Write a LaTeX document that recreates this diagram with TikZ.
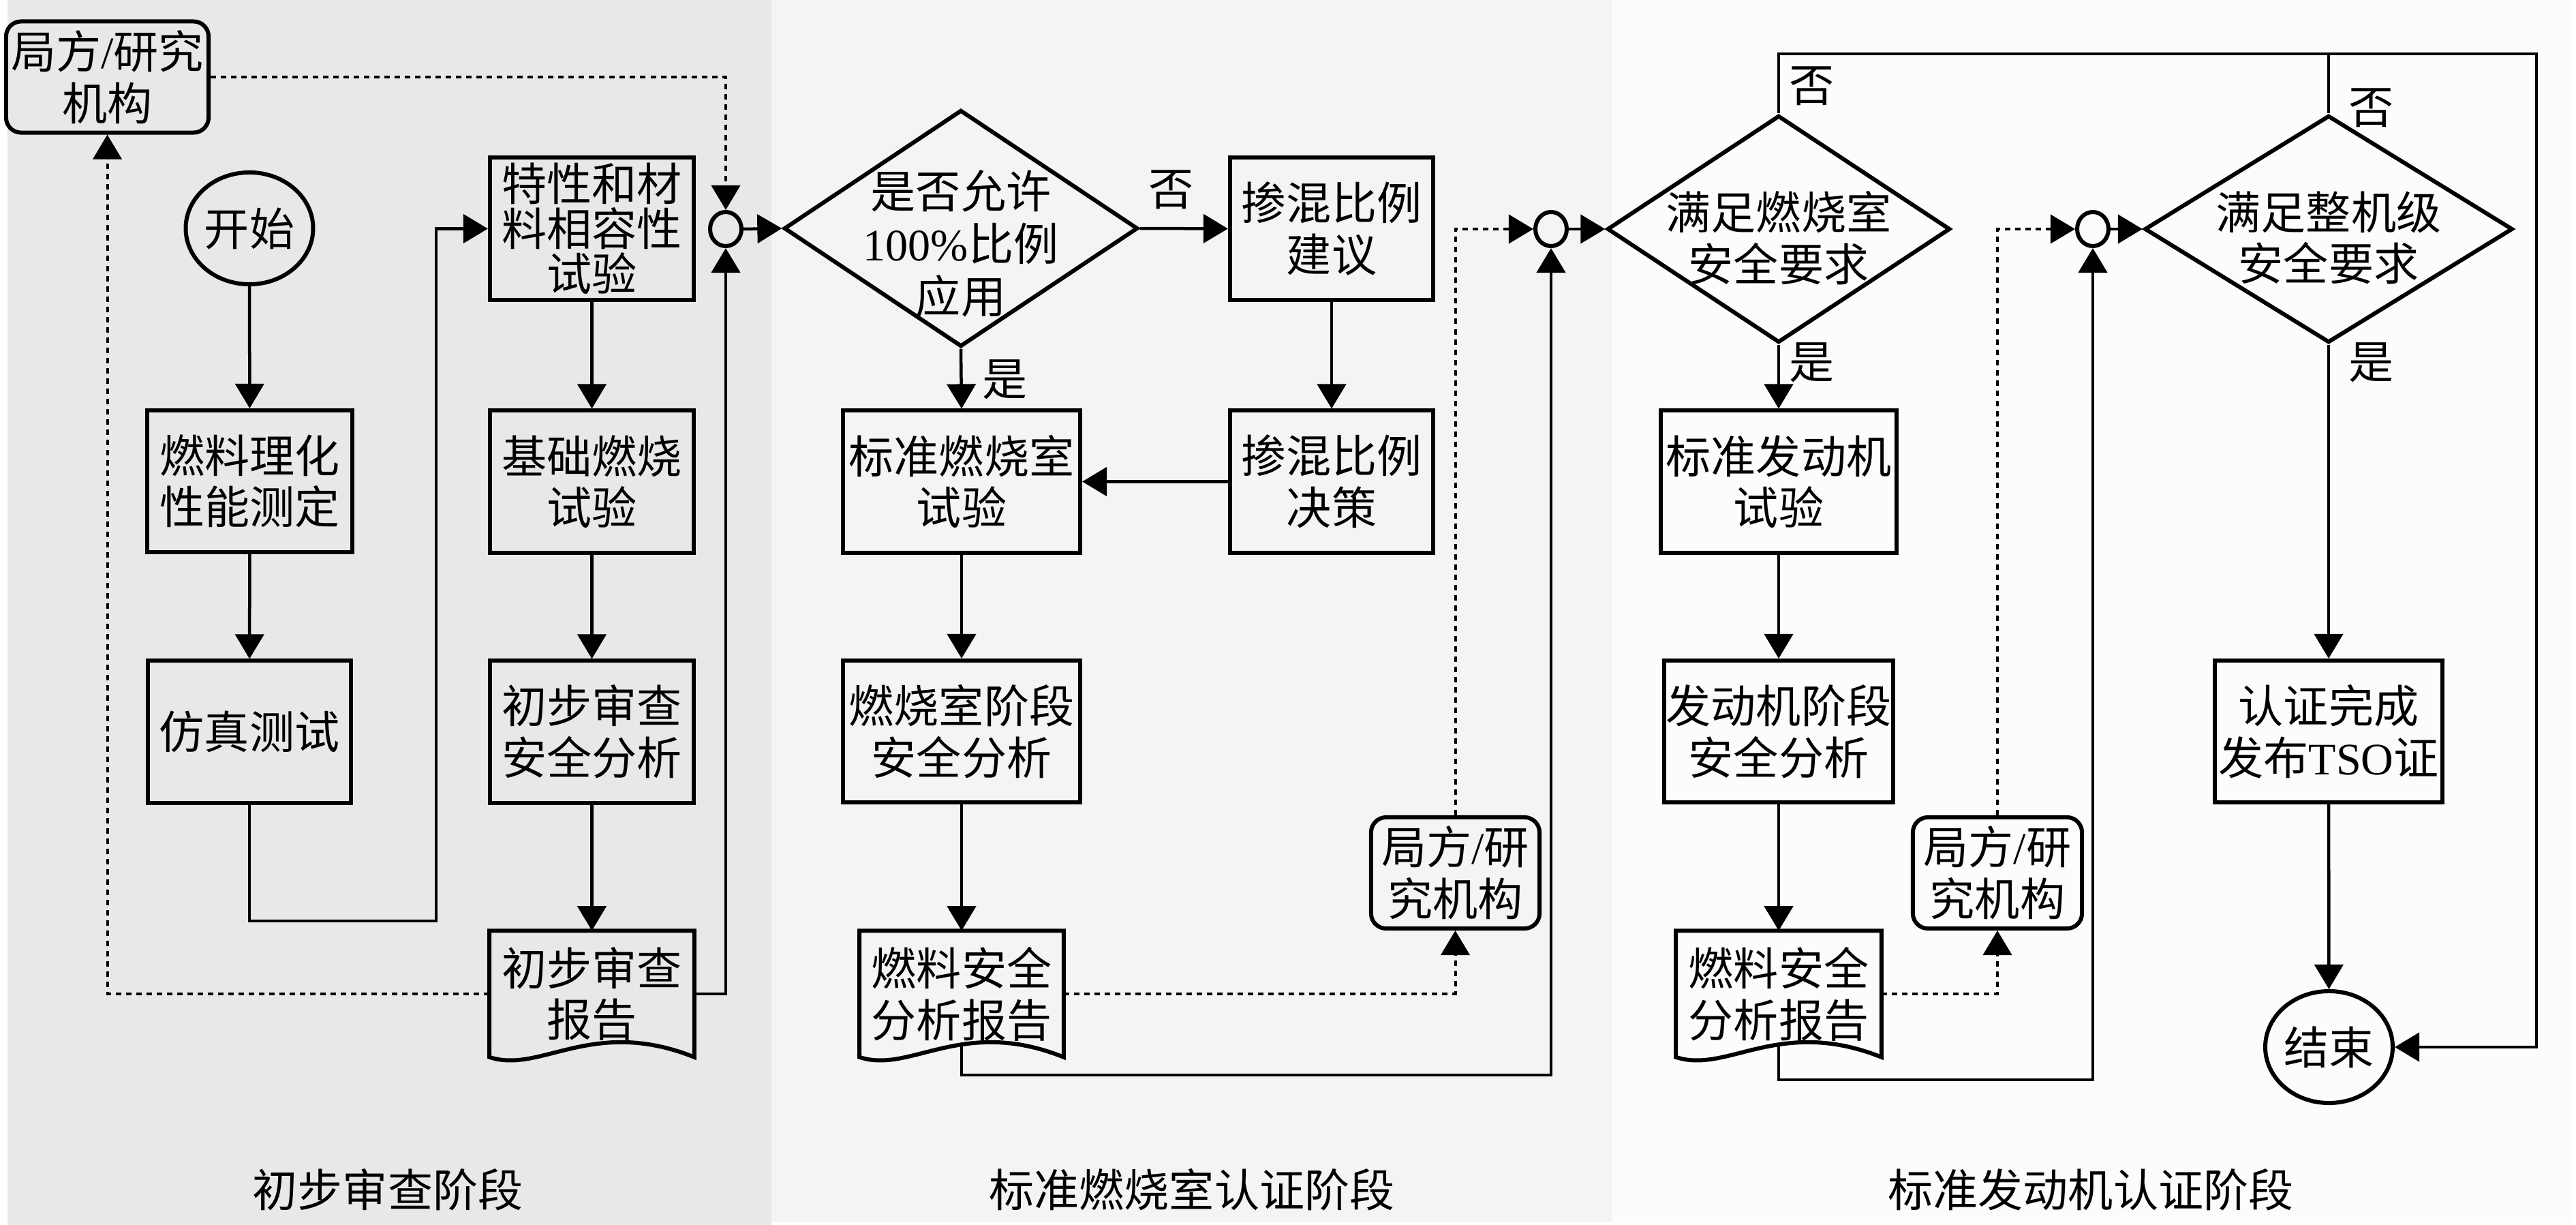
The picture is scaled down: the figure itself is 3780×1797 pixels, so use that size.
\documentclass[tikz,border=0pt]{standalone}
\usepackage{fontspec}
\setmainfont{Liberation Serif}
\newfontfamily\cjk{Noto Sans CJK SC}
\newcommand\lat[1]{{\rmfamily #1}}
\usetikzlibrary{arrows.meta,shapes.geometric,calc}
\definecolor{panelA}{HTML}{E8E8E8}
\definecolor{panelB}{HTML}{F4F4F4}
\definecolor{panelC}{HTML}{FCFCFC}
\newcommand\mydocborder[1]{%
  \draw[line width=0.06cm,line join=miter] (#1.south west) -- (#1.north west) -- (#1.north east) -- (#1.south east)
    .. controls ($(#1.south west)!0.5!(#1.south east)+(0,-60)$) and ($(#1.south west)!0.25!(#1.south east)+(0,25)$) .. (#1.south west) -- cycle;}
\begin{document}
\begin{tikzpicture}[x=0.01cm,y=-0.01cm,
  every node/.style={font=\cjk\fontsize{18.8}{21.5}\selectfont, inner sep=0pt, align=center},
  box/.style={draw, line width=0.06cm, minimum width=#1, minimum height=2.08cm},
  box/.default=3.0cm,
  rbox/.style={draw, line width=0.06cm, rounded corners=0.22cm, minimum width=#1, minimum height=1.63cm},
  docbox/.style={minimum width=#1, minimum height=1.84cm},
  term/.style={draw, ellipse, line width=0.06cm, minimum width=1.64cm, minimum height=1.64cm},
  junc/.style={draw, ellipse, line width=0.06cm, minimum width=0.46cm, minimum height=0.50cm},
  decide/.style={draw, diamond, line width=0.06cm},
  plain/.style={line width=0.045cm},
  conn/.style={line width=0.045cm, -{Triangle[length=0.36cm,width=0.42cm]}},
  dotconn/.style={line width=0.04cm, dash pattern=on 0.08cm off 0.07cm, -{Triangle[length=0.36cm,width=0.42cm]}},
  tight/.style={font=\cjk\fontsize{18.8}{18.8}\selectfont},
  dtext/.style={font=\cjk\fontsize{18.8}{21.9}\selectfont}
]
\useasboundingbox (0,0) rectangle (3780,1797);
% panels
\fill[panelA] (11,0) rectangle (1132,1797);
\fill[panelB] (1132,0) rectangle (2366,1793);
\fill[panelC] (2366,0) rectangle (3772,1794);

% ---------------- phase 1 ----------------
\node[rbox=2.97cm] (ja1) at (157.5,113) {局方\lat{/}研究\\机构};
\node[term] (start) at (366,335) {开始};
\node[box=3.01cm] (b1) at (366.5,706) {燃料理化\\性能测定};
\node[box=2.98cm] (b2) at (366,1073.5) {仿真测试};
\node[box=2.99cm, tight] (b3) at (868.5,335.5) {特性和材\\料相容性\\试验};
\node[box=2.99cm] (b4) at (868.5,706.5) {基础燃烧\\试验};
\node[box=2.99cm] (b5) at (868.5,1073.5) {初步审查\\安全分析};
\node[docbox=2.99cm] (doc1) at (868.5,1458) {初步审查\\报告};
\mydocborder{doc1}
\node[junc] (j1) at (1065,336) {};
\node (ph1) at (569,1745) {初步审查阶段};

\coordinate (k1) at (640,1351);
\draw[conn] (start) -- (b1);
\draw[conn] (b1) -- (b2);
\draw[conn] (b3) -- (b4);
\draw[conn] (b4) -- (b5);
\draw[conn] (b5) -- (doc1);
\draw[conn] (b2.south) |- (k1) |- (b3.west);
\draw[dotconn] (doc1.west) -| (ja1.south);
\draw[dotconn] (ja1.east) -| (j1.north);
\draw[conn] (doc1.east) -| (j1.south);

% ---------------- phase 2 ----------------
\node[decide, minimum width=5.19cm, minimum height=3.47cm] (dia1) at (1410,335) {};
\node[dtext] (dia1t) at (1410,357) {是否允许\\\lat{100\%}比例\\应用};
\node (no1) at (1719,278) {否};
\node (yes1) at (1475,557) {是};
\node[box=2.98cm] (b6) at (1954,335.5) {掺混比例\\建议};
\node[box=2.98cm] (b7) at (1954,706.5) {掺混比例\\决策};
\node[box=3.48cm] (b8) at (1411,706.5) {标准燃烧室\\试验};
\node[box=3.48cm] (b9) at (1411,1073) {燃烧室阶段\\安全分析};
\node[docbox=2.98cm] (doc2) at (1411,1458) {燃料安全\\分析报告};
\mydocborder{doc2}
\node[rbox=2.47cm] (ja2) at (2135.5,1280.5) {局方\lat{/}研\\究机构};
\node[junc] (j2) at (2276,336) {};
\node (ph2) at (1749,1745) {标准燃烧室认证阶段};

\draw[conn] (j1.east) -- (dia1.west);
\draw[conn] (dia1.east) -- (b6.west);
\draw[conn] (dia1.south) -- (b8.north);
\draw[conn] (b6) -- (b7);
\draw[conn] (b7.west) -- (b8.east);
\draw[conn] (b8) -- (b9);
\draw[conn] (b9) -- (doc2);
\draw[dotconn] (doc2.east) -| (ja2.south);
\draw[dotconn] (ja2.north) |- (j2.west);
\coordinate (doc2b) at ($(doc2.south)+(0,-18)$);
\coordinate (k2) at (2276,1577);
\draw[conn] (doc2b) |- (k2) -- (j2.south);

% ---------------- phase 3 ----------------
\node[decide, minimum width=5.03cm, minimum height=3.33cm] (dia2) at (2610,336) {};
\node (dia2t) at (2610,349) {满足燃烧室\\安全要求};
\node (no2) at (2659,126) {否};
\node (yes2) at (2659,532) {是};
\node[box=3.46cm] (b10) at (2610,706.5) {标准发动机\\试验};
\node[box=3.36cm] (b11) at (2610,1073) {发动机阶段\\安全分析};
\node[docbox=3.0cm] (doc3) at (2610,1458) {燃料安全\\分析报告};
\mydocborder{doc3}
\node[rbox=2.48cm] (ja3) at (2931,1280.5) {局方\lat{/}研\\究机构};
\node[junc] (j3) at (3071,336) {};
\node[decide, minimum width=5.40cm, minimum height=3.33cm] (dia3) at (3417,336) {};
\node (dia3t) at (3417,349) {满足整机级\\安全要求};
\node (no3) at (3480,158) {否};
\node (yes3) at (3480,532) {是};
\node[box=3.34cm] (b12) at (3417,1073) {认证完成\\发布\lat{TSO}证};
\node[term] (end) at (3417.5,1536) {结束};
\node (ph3) at (3068,1745) {标准发动机认证阶段};

\draw[conn] (j2.east) -- (dia2.west);
\draw[conn] (dia2.south) -- (b10.north);
\draw[conn] (b10) -- (b11);
\draw[conn] (b11) -- (doc3);
\draw[dotconn] (doc3.east) -| (ja3.south);
\draw[dotconn] (ja3.north) |- (j3.west);
\coordinate (doc3b) at ($(doc3.south)+(0,-18)$);
\coordinate (k3) at (3071,1584);
\draw[conn] (doc3b) |- (k3) -- (j3.south);
\draw[conn] (j3.east) -- (dia3.west);
\draw[conn] (dia3.south) -- (b12.north);
\draw[conn] (b12) -- (end);
\coordinate (t1) at (2610,79);
\coordinate (t2) at (3722,79);
\draw[conn] (dia2.north) -- (t1) -- (t2) |- (end.east);
\draw[plain] (dia3.north) -- (dia3.north |- t1);
\end{tikzpicture}
\end{document}
